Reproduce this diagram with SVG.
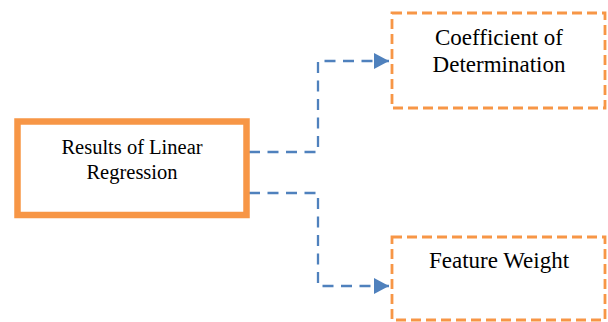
<svg xmlns="http://www.w3.org/2000/svg" width="608" height="322" viewBox="0 0 608 322">
<style>
.t{font-family:"Liberation Serif","Times New Roman",serif;fill:#000;text-anchor:middle}
.dbox{fill:#fff;stroke:#F79646;stroke-width:2.8;stroke-dasharray:10 5}
.conn{fill:none;stroke:#4F81BD;stroke-width:2.3;stroke-dasharray:11 7.5}
</style>
<defs>
<marker id="arr" markerUnits="userSpaceOnUse" markerWidth="16" markerHeight="18" refX="15" refY="8" orient="auto">
<path d="M0,0 L15,8 L0,16 Z" fill="#4F81BD"/>
</marker>
</defs>
<rect width="608" height="322" fill="#fff"/>
<g id="connectors">
<path class="conn" d="M249,152 H318 V61 H389" marker-end="url(#arr)"/>
<path class="conn" d="M249,193 H318 V286 H389" marker-end="url(#arr)"/>
</g>
<g id="results">
<rect x="17.5" y="121.5" width="229" height="93.5" fill="#fff" stroke="#F79646" stroke-width="6.5"/>
<text class="t" x="132" y="154" font-size="20.5">Results of Linear</text>
<text class="t" x="132" y="179" font-size="20.5">Regression</text>
</g>
<g id="coef">
<rect class="dbox" x="392" y="13" width="213" height="95"/>
<text class="t" x="499" y="45" font-size="23">Coefficient of</text>
<text class="t" x="499" y="72" font-size="23">Determination</text>
</g>
<g id="feature">
<rect class="dbox" x="392" y="237" width="213" height="83"/>
<text class="t" x="499" y="268" font-size="23">Feature Weight</text>
</g>
</svg>
